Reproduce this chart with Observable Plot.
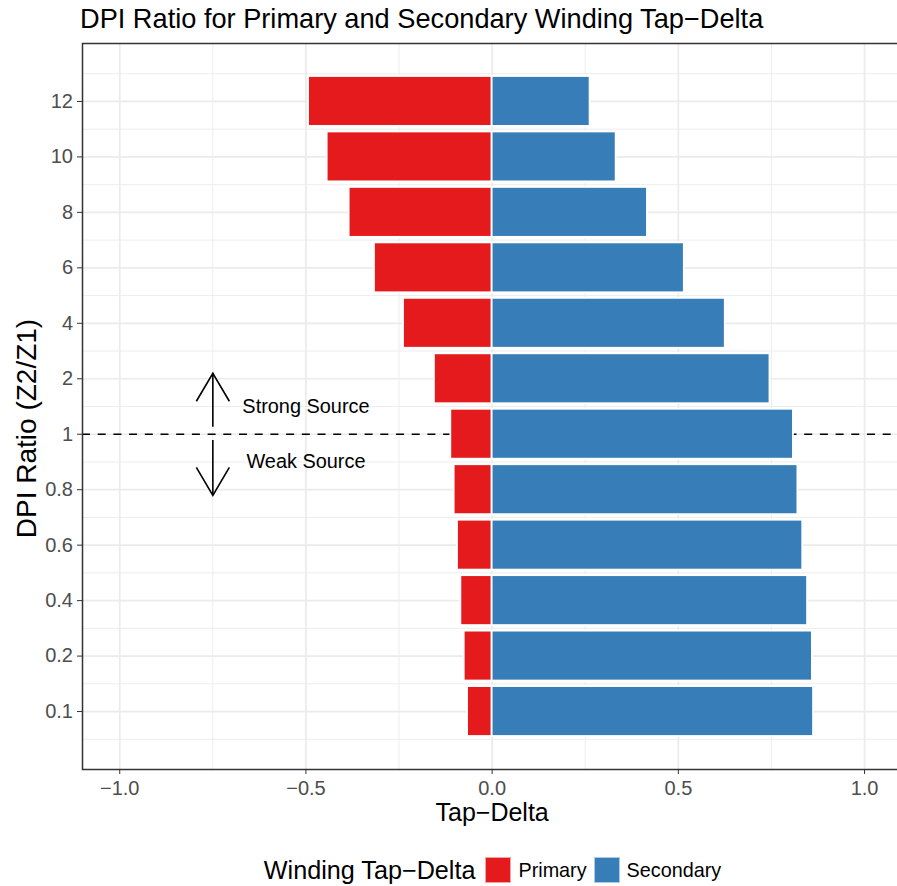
<!DOCTYPE html>
<html>
<head>
<meta charset="utf-8">
<script src="https://cdn.jsdelivr.net/npm/d3@7"></script>
<script src="https://cdn.jsdelivr.net/npm/@observablehq/plot@0.6"></script>
<style>
  html, body { margin: 0; padding: 0; background: #fff; overflow: hidden; width: 897px; height: 886px; }
  body { position: relative; font-family: "Liberation Sans", Arial, Helvetica, sans-serif; }
  #title { position: absolute; left: 80px; top: 4.6px; font-size: 27.2px; line-height: 1; color: #000; white-space: nowrap; }
  #chart { position: absolute; left: 0; top: 36px; width: 902px; }
  #chart svg { max-width: none !important; }
  #legend { position: absolute; left: 0; top: 857px; width: 985px; height: 26px; display: flex; justify-content: center; align-items: center; white-space: nowrap; color: #000; }
  #legend .ltitle { font-size: 25.2px; margin-right: 10px; }
  #legend .key { width: 26px; height: 26px; box-sizing: border-box; border: 1px solid rgba(255,255,255,0.6); margin-right: 7px; }
  #legend .label { font-size: 19.8px; margin-right: 7px; }
  #legend .label:last-child { margin-right: 0; }
  #chart svg g[aria-label="x-axis tick label"] text,
  #chart svg g[aria-label="y-axis tick label"] text,
  #chart svg g[aria-label="x-axis"] text,
  #chart svg g[aria-label="y-axis"] text { fill: #4d4d4d; }
</style>
</head>
<body>
<div id="title">DPI Ratio for Primary and Secondary Winding Tap−Delta</div>
<div id="chart"></div>
<div id="legend"></div>
<script>
// DPI ratio categories, bottom to top
const ratioLabels = ["0.1", "0.2", "0.4", "0.6", "0.8", "1", "2", "4", "6", "8", "10", "12"];
// Tap-delta of the primary winding (negative side) for each ratio
const primaryDelta = [-0.066, -0.075, -0.084, -0.093, -0.102, -0.111, -0.155, -0.238, -0.316, -0.384, -0.443, -0.493];
// Tap-delta of the secondary winding (positive side) for each ratio
const secondaryDelta = [0.863, 0.860, 0.847, 0.834, 0.821, 0.809, 0.746, 0.626, 0.516, 0.417, 0.333, 0.263];

const windingTypes = ["Primary", "Secondary"];
const windingColors = ["#E41A1C", "#377EB8"];

const xTicks = [-1, -0.5, 0, 0.5, 1];
const xMinorTicks = [-0.75, -0.25, 0.25, 0.75];

// Ratio where source strength flips
const referenceRatio = "1";
// Notes around the reference line (offset in category steps)
const sourceNotes = [
  {text: "Strong Source", x: -0.5, offset: 0.5},
  {text: "Weak Source", x: -0.5, offset: -0.5}
];
// Direction arrows beside the notes (offsets in category steps)
const sourceArrows = [
  {x: -0.75, from: 0.128, to: 1.10},
  {x: -0.75, from: -0.112, to: -1.104}
];

const barWidth = 0.9;
const positions = ratioLabels.map((_, i) => i + 1);
const minorPositions = ratioLabels.map((_, i) => i + 0.5).concat([ratioLabels.length + 0.5]);
const refPos = ratioLabels.indexOf(referenceRatio) + 1;

const rows = ratioLabels.flatMap((ratio, i) => [
  {ratio, pos: i + 1, winding: "Primary", value: primaryDelta[i]},
  {ratio, pos: i + 1, winding: "Secondary", value: secondaryDelta[i]}
]);

// y extent follows the bar edges plus 5% padding
const yLo = 1 - barWidth / 2, yHi = ratioLabels.length + barWidth / 2;
const yPad = (yHi - yLo) * 0.05;

const upHead = {draw(ctx) { ctx.moveTo(-16.5, 28); ctx.lineTo(0, 0); ctx.lineTo(16.5, 28); }};
const downHead = {draw(ctx) { ctx.moveTo(-16.5, -28); ctx.lineTo(0, 0); ctx.lineTo(16.5, -28); }};

const grid = "#ebebeb";
const fmt = d3.format(".1f");

const chart = Plot.plot({
  width: 902,
  height: 800,
  marginLeft: 82,
  marginRight: 0.7,
  marginTop: 7,
  marginBottom: 67,
  style: {fontFamily: "'Liberation Sans', Arial, Helvetica, sans-serif", fontSize: "20px", color: "#333333", background: "white", overflow: "visible", maxWidth: "none"},
  x: {domain: [-1.1, 1.1], ticks: xTicks, tickFormat: fmt, tickSize: 5, tickPadding: 6, label: null},
  y: {domain: [yLo - yPad, yHi + yPad], ticks: positions, tickFormat: d => ratioLabels[d - 1], tickSize: 5, tickPadding: 4.5, label: null},
  color: {domain: windingTypes, range: windingColors},
  marks: [
    Plot.ruleX(xMinorTicks, {stroke: grid, strokeWidth: 0.9}),
    Plot.ruleY(minorPositions, {stroke: grid, strokeWidth: 0.9}),
    Plot.ruleX(xTicks, {stroke: grid, strokeWidth: 1.7}),
    Plot.ruleY(positions, {stroke: grid, strokeWidth: 1.7}),
    Plot.ruleY([refPos], {stroke: "black", strokeWidth: 1.6, strokeDasharray: "8,7.7"}),
    Plot.rectX(rows, {
      x1: () => 0, x2: "value",
      y1: d => d.pos - barWidth / 2, y2: d => d.pos + barWidth / 2,
      fill: "winding", stroke: "white", strokeWidth: 1.8
    }),
    Plot.ruleX(sourceArrows, {x: "x", y1: d => refPos + d.from, y2: d => refPos + d.to, stroke: "black", strokeWidth: 1.6}),
    Plot.dot(sourceArrows.filter(d => d.to > 0), {x: "x", y: d => refPos + d.to, symbol: upHead, r: 5, fill: "none", stroke: "black", strokeWidth: 1.6}),
    Plot.dot(sourceArrows.filter(d => d.to < 0), {x: "x", y: d => refPos + d.to, symbol: downHead, r: 5, fill: "none", stroke: "black", strokeWidth: 1.6}),
    Plot.text(sourceNotes, {x: "x", y: d => refPos + d.offset, text: "text", fontSize: 19.9, fill: "black"}),
    Plot.frame({stroke: "#333333", strokeWidth: 1.5}),
    Plot.text(["Tap−Delta"], {text: d => d, frameAnchor: "bottom", textAnchor: "middle", dy: 51, lineAnchor: "bottom", fontSize: 25, fill: "black"}),
    Plot.text(["DPI Ratio (Z2/Z1)"], {text: d => d, frameAnchor: "left", textAnchor: "middle", rotate: -90, dx: -46.5, dy: 22, lineAnchor: "bottom", fontSize: 28, fill: "black"})
  ]
});
document.getElementById("chart").appendChild(chart);

// Legend below the chart
const legend = document.getElementById("legend");
const lt = document.createElement("span");
lt.className = "ltitle";
lt.textContent = "Winding Tap−Delta";
legend.appendChild(lt);
windingTypes.forEach((w, i) => {
  const k = document.createElement("span");
  k.className = "key";
  k.style.background = windingColors[i];
  legend.appendChild(k);
  const l = document.createElement("span");
  l.className = "label";
  l.textContent = w;
  legend.appendChild(l);
});
</script>
</body>
</html>
